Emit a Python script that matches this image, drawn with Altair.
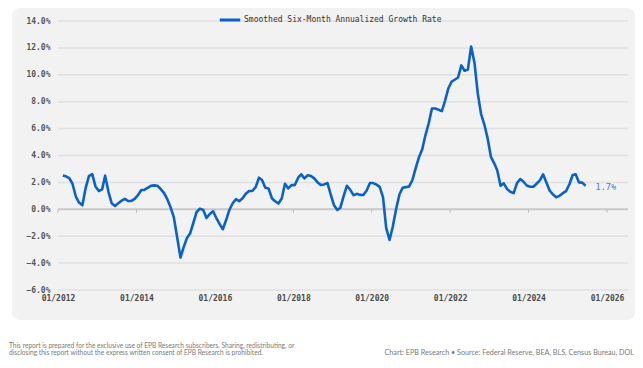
import altair as alt
import pandas as pd

# Smoothed six-month annualized growth rate (%), monthly from 2012-01
start_month = "2012-01-15"
values = [
    2.52, 2.45, 2.32, 1.90, 0.95, 0.50, 0.30, 1.60, 2.47, 2.62, 1.70, 1.36,   # 2012
    1.48, 2.50, 1.30, 0.45, 0.25, 0.45, 0.64, 0.78, 0.62, 0.62, 0.77, 1.05,   # 2013
    1.44, 1.44, 1.60, 1.74, 1.78, 1.75, 1.50, 1.20, 0.75, 0.15, -0.60, -2.10, # 2014
    -3.59, -2.85, -2.15, -1.80, -1.00, -0.20, 0.05, -0.05, -0.65, -0.35, -0.15, -0.65,  # 2015
    -1.10, -1.48, -0.80, -0.05, 0.45, 0.75, 0.60, 0.82, 1.15, 1.36, 1.36, 1.65,  # 2016
    2.35, 2.18, 1.60, 1.55, 0.82, 0.60, 0.43, 0.80, 1.90, 1.55, 1.80, 1.80,   # 2017
    2.35, 2.60, 2.30, 2.53, 2.47, 2.30, 2.00, 1.80, 1.85, 1.95, 1.10, 0.30,   # 2018
    -0.05, 0.12, 1.00, 1.75, 1.45, 1.05, 1.15, 1.07, 1.06, 1.40, 1.95, 1.95,  # 2019
    1.83, 1.67, 0.90, -1.40, -2.28, -1.30, 0.00, 1.10, 1.60, 1.65, 1.70, 2.20,  # 2020
    3.10, 3.85, 4.45, 5.50, 6.40, 7.50, 7.50, 7.40, 7.30, 8.10, 9.00, 9.50,   # 2021
    9.65, 9.80, 10.70, 10.30, 10.40, 12.10, 10.90, 8.60, 7.10, 6.30, 5.30, 3.90,  # 2022
    3.42, 2.90, 1.75, 1.93, 1.50, 1.30, 1.20, 1.95, 2.25, 2.05, 1.77, 1.68,   # 2023
    1.68, 1.90, 2.15, 2.60, 2.00, 1.40, 1.10, 0.90, 1.00, 1.20, 1.35, 1.86,   # 2024
    2.55, 2.60, 2.00, 1.98, 1.75,                                             # 2025
]
series_name = "Smoothed Six-Month Annualized Growth Rate"
last_label = "1.7%"
tick_years = ["2012-01-01", "2014-01-01", "2016-01-01", "2018-01-01",
              "2020-01-01", "2022-01-01", "2024-01-01", "2026-01-01"]
y_ticks = [-6, -4, -2, 0, 2, 4, 6, 8, 10, 12, 14]
footer_left_1 = "This report is prepared for the exclusive use of EPB Research subscribers. Sharing, redistributing, or"
footer_left_2 = "disclosing this report without the express written consent of EPB Research is prohibited."
footer_right = "Chart: EPB Research  •  Source: Federal Reserve, BEA, BLS, Census Bureau, DOL"

dates = pd.date_range(start_month, periods=len(values), freq="MS") + pd.Timedelta(days=14)
df = pd.DataFrame({"date": dates, "value": values, "series": series_name})
last_df = df.tail(1).assign(label=last_label)
ticks_df = pd.DataFrame({"date": pd.to_datetime(tick_years), "y0": 0.0, "y1": -0.25})
grid_df = pd.DataFrame({"y": [t for t in y_ticks if t != 0]})
one = pd.DataFrame({"a": [0]})

MONO = "DejaVu Sans Mono"
LINE = "#0a62c8"

xscale = alt.Scale(domain=["2012-01-01", "2026-07-15"])
yscale = alt.Scale(domain=[-6, 14], nice=False)

xaxis = alt.Axis(values=tick_years, format="%m/%Y", title=None, grid=False,
                 ticks=False, domain=False, labelFont=MONO, labelFontSize=8,
                 labelFontWeight="bold", labelColor="#4a4a4a", labelPadding=4,
                 labelFlush=False, labelOverlap=False, zindex=1)
yaxis = alt.Axis(values=y_ticks, title=None, ticks=False, domain=False, grid=False,
                 labelExpr="format(datum.value, '.1f') + '%'",
                 labelFont=MONO, labelFontSize=8, labelFontWeight="bold",
                 labelColor="#555555", labelPadding=8, labelOverlap=False,
                 labelFlush=False, zindex=1)

panel = alt.Chart(one).mark_rect(fill="#f2f2f2", cornerRadius=8).encode(
    x=alt.value(-46), x2=alt.value(577), y=alt.value(-13), y2=alt.value(299)
)

grid = alt.Chart(grid_df).mark_rule(color="#e0e0e0", strokeWidth=1.5).encode(
    y=alt.Y("y:Q", scale=yscale, axis=yaxis)
)

zero = alt.Chart(one).mark_rule(color="#c9c9c9", strokeWidth=2).encode(
    y=alt.datum(0, scale=yscale, axis=yaxis)
)

xticks = alt.Chart(ticks_df).mark_rule(color="#bdbdbd", strokeWidth=1).encode(
    x=alt.X("date:T", scale=xscale, axis=xaxis),
    y=alt.Y("y0:Q", scale=yscale, axis=yaxis), y2="y1:Q"
)

line = alt.Chart(df).mark_line(strokeWidth=2.6, strokeJoin="round").encode(
    x=alt.X("date:T", scale=xscale, axis=xaxis),
    y=alt.Y("value:Q", scale=yscale, axis=yaxis),
    color=alt.Color("series:N", scale=alt.Scale(domain=[series_name], range=[LINE]),
                    legend=alt.Legend(title=None, orient="none", legendX=160, legendY=-13,
                                      symbolType="stroke", symbolSize=420,
                                      symbolStrokeWidth=3, labelFont=MONO,
                                      labelFontSize=8, labelColor="#333333",
                                      labelOffset=2, labelLimit=600)),
)

label = alt.Chart(last_df).mark_text(
    align="left", dx=10, dy=1, font=MONO, fontSize=8.5, color="#3d7fd0"
).encode(x=alt.X("date:T", scale=xscale, axis=xaxis),
         y=alt.Y("value:Q", scale=yscale, axis=yaxis), text="label:N")

foot1 = alt.Chart(one).mark_text(text=footer_left_1, align="left", baseline="alphabetic",
                                 font="Lato", fontSize=6.6, color="#7a7a7a").encode(
    x=alt.value(-49), y=alt.value(327))
foot2 = alt.Chart(one).mark_text(text=footer_left_2, align="left", baseline="alphabetic",
                                 font="Lato", fontSize=6.6, color="#7a7a7a").encode(
    x=alt.value(-49), y=alt.value(334))
foot3 = alt.Chart(one).mark_text(text=footer_right, align="right", baseline="alphabetic",
                                 font="Lato", fontSize=7.2, color="#7a7a7a").encode(
    x=alt.value(576), y=alt.value(334))

chart = alt.layer(panel, grid, zero, xticks, line, label, foot1, foot2, foot3).properties(
    width=570, height=269,
    autosize=alt.AutoSizeParams(type="none"),
    padding={"left": 50, "top": 13, "right": 7, "bottom": 70},
    background="white",
).configure_view(stroke=None)

chart.save("out.html", embed_options={"renderer": "svg", "actions": False})
